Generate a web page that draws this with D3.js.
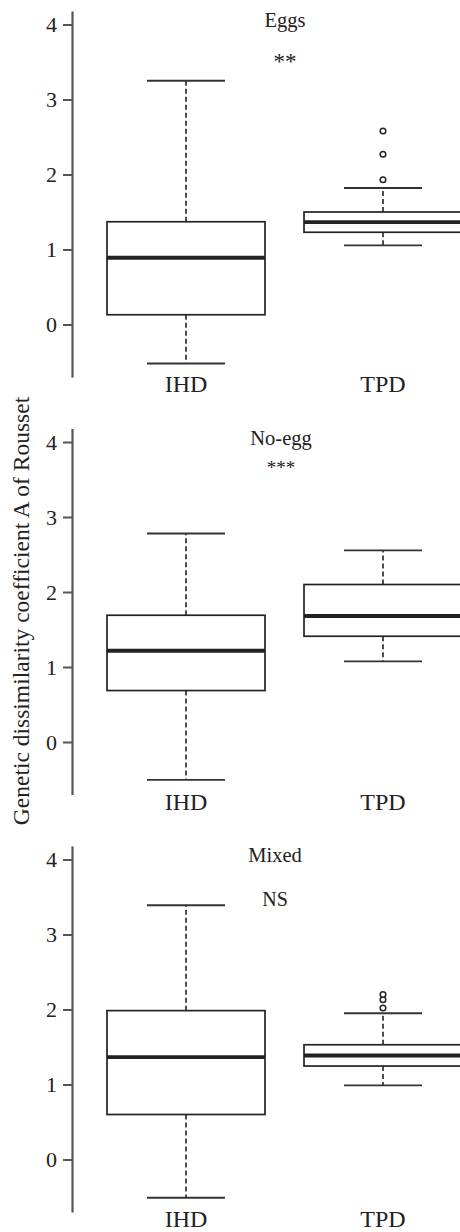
<!DOCTYPE html>
<html>
<head>
<meta charset="utf-8">
<script src="https://cdn.jsdelivr.net/npm/d3@7"></script>
<style>
  html, body { margin: 0; padding: 0; background: #fff; }
  svg { display: block; }
  text { font-family: "Liberation Serif", "Times New Roman", serif; fill: #222; }
</style>
</head>
<body>
<script>
// ---- Data ----
const categories = ["IHD", "TPD"];
const panelTitles = ["Eggs", "No-egg", "Mixed"];
const significance = ["**", "***", "NS"];
const yTicks = [0, 1, 2, 3, 4];
const yLabel = "Genetic dissimilarity coefficient A of Rousset";

// [lower whisker, Q1, median, Q3, upper whisker]
const eggsIHD   = [-0.52, 0.13, 0.89, 1.37, 3.25];
const eggsTPD   = [1.055, 1.23, 1.366, 1.50, 1.82];
const eggsTPDOutliers = [1.93, 2.27, 2.58];

const noEggIHD  = [-0.505, 0.686, 1.217, 1.69, 2.78];
const noEggTPD  = [1.076, 1.41, 1.68, 2.10, 2.555];

const mixedIHD  = [-0.51, 0.60, 1.366, 1.985, 3.39];
const mixedTPD  = [0.988, 1.246, 1.387, 1.53, 1.95];
const mixedTPDOutliers = [2.02, 2.13, 2.20];

const panelStats = [
  { IHD: eggsIHD, TPD: eggsTPD, out: { IHD: [], TPD: eggsTPDOutliers } },
  { IHD: noEggIHD, TPD: noEggTPD, out: { IHD: [], TPD: [] } },
  { IHD: mixedIHD, TPD: mixedTPD, out: { IHD: [], TPD: mixedTPDOutliers } }
];

// ---- Layout ----
const W = 460, H = 1232;
const panelTop = [11, 428.5, 846];
const panelH = 366;
const yDomain = [-0.7, 4.18];
const axisX = 72;
const boxW = 158, capW = 78;
const titleX = [285, 281, 275];

const svg = d3.select("body").append("svg")
  .attr("width", W).attr("height", H)
  .attr("viewBox", `0 0 ${W} ${H}`);
svg.append("rect").attr("width", W).attr("height", H).attr("fill", "#fff");

const x = d3.scalePoint().domain(categories).range([186, 383]);

panelStats.forEach((stats, i) => {
  const top = panelTop[i];
  const y = d3.scaleLinear().domain(yDomain).range([top + panelH, top]);
  const g = svg.append("g");

  // axis
  const ax = g.append("g")
    .attr("transform", `translate(${axisX},0)`)
    .call(d3.axisLeft(y).tickValues(yTicks).tickFormat(d3.format("d"))
      .tickSizeInner(9).tickSizeOuter(0).tickPadding(6));
  ax.select(".domain").attr("stroke", "#555").attr("stroke-width", 2.2);
  ax.selectAll(".tick line").attr("stroke", "#555").attr("stroke-width", 2);
  ax.selectAll(".tick text")
    .style("font-family", "'Liberation Serif', serif")
    .style("font-size", "22px").attr("fill", "#222");

  categories.forEach(c => {
    const s = stats[c];
    const cx = x(c);
    // whiskers (dashed)
    g.append("line").attr("x1", cx).attr("x2", cx)
      .attr("y1", y(s[3])).attr("y2", y(s[4]))
      .attr("stroke", "#222").attr("stroke-width", 1.6).attr("stroke-dasharray", "5,3");
    g.append("line").attr("x1", cx).attr("x2", cx)
      .attr("y1", y(s[1])).attr("y2", y(s[0]))
      .attr("stroke", "#222").attr("stroke-width", 1.6).attr("stroke-dasharray", "5,3");
    // caps
    [s[0], s[4]].forEach(v => {
      g.append("line").attr("x1", cx - capW / 2).attr("x2", cx + capW / 2)
        .attr("y1", y(v)).attr("y2", y(v))
        .attr("stroke", "#333").attr("stroke-width", 1.8);
    });
    // box
    g.append("rect").attr("x", cx - boxW / 2).attr("width", boxW)
      .attr("y", y(s[3])).attr("height", y(s[1]) - y(s[3]))
      .attr("fill", "#fff").attr("stroke", "#222").attr("stroke-width", 1.7);
    // median
    g.append("line").attr("x1", cx - boxW / 2).attr("x2", cx + boxW / 2)
      .attr("y1", y(s[2])).attr("y2", y(s[2]))
      .attr("stroke", "#222").attr("stroke-width", 3.8);
    // outliers
    stats.out[c].forEach(v => {
      g.append("circle").attr("cx", cx).attr("cy", y(v)).attr("r", 2.8)
        .attr("fill", "#fff").attr("stroke", "#222").attr("stroke-width", 1.5);
    });
    // category label
    g.append("text").attr("x", cx).attr("y", top + panelH + 15)
      .attr("text-anchor", "middle").style("font-size", "24px").text(c);
  });

  // title
  g.append("text").attr("x", titleX[i]).attr("y", top + 16)
    .attr("text-anchor", "middle").style("font-size", "20.5px").text(panelTitles[i]);
  // significance
  const sig = significance[i];
  const isStar = sig.indexOf("*") >= 0;
  g.append("text").attr("x", titleX[i]).attr("y", isStar ? top + (i === 0 ? 58 : 45) : top + 60)
    .attr("text-anchor", "middle")
    .style("font-size", isStar ? (i === 0 ? "23px" : "19px") : "20px")
    .text(sig);
});

// y label
svg.append("text")
  .attr("transform", `translate(29,611) rotate(-90)`)
  .attr("text-anchor", "middle")
  .style("font-size", "23.5px")
  .attr("fill", "#333")
  .text(yLabel);
</script>
</body>
</html>
